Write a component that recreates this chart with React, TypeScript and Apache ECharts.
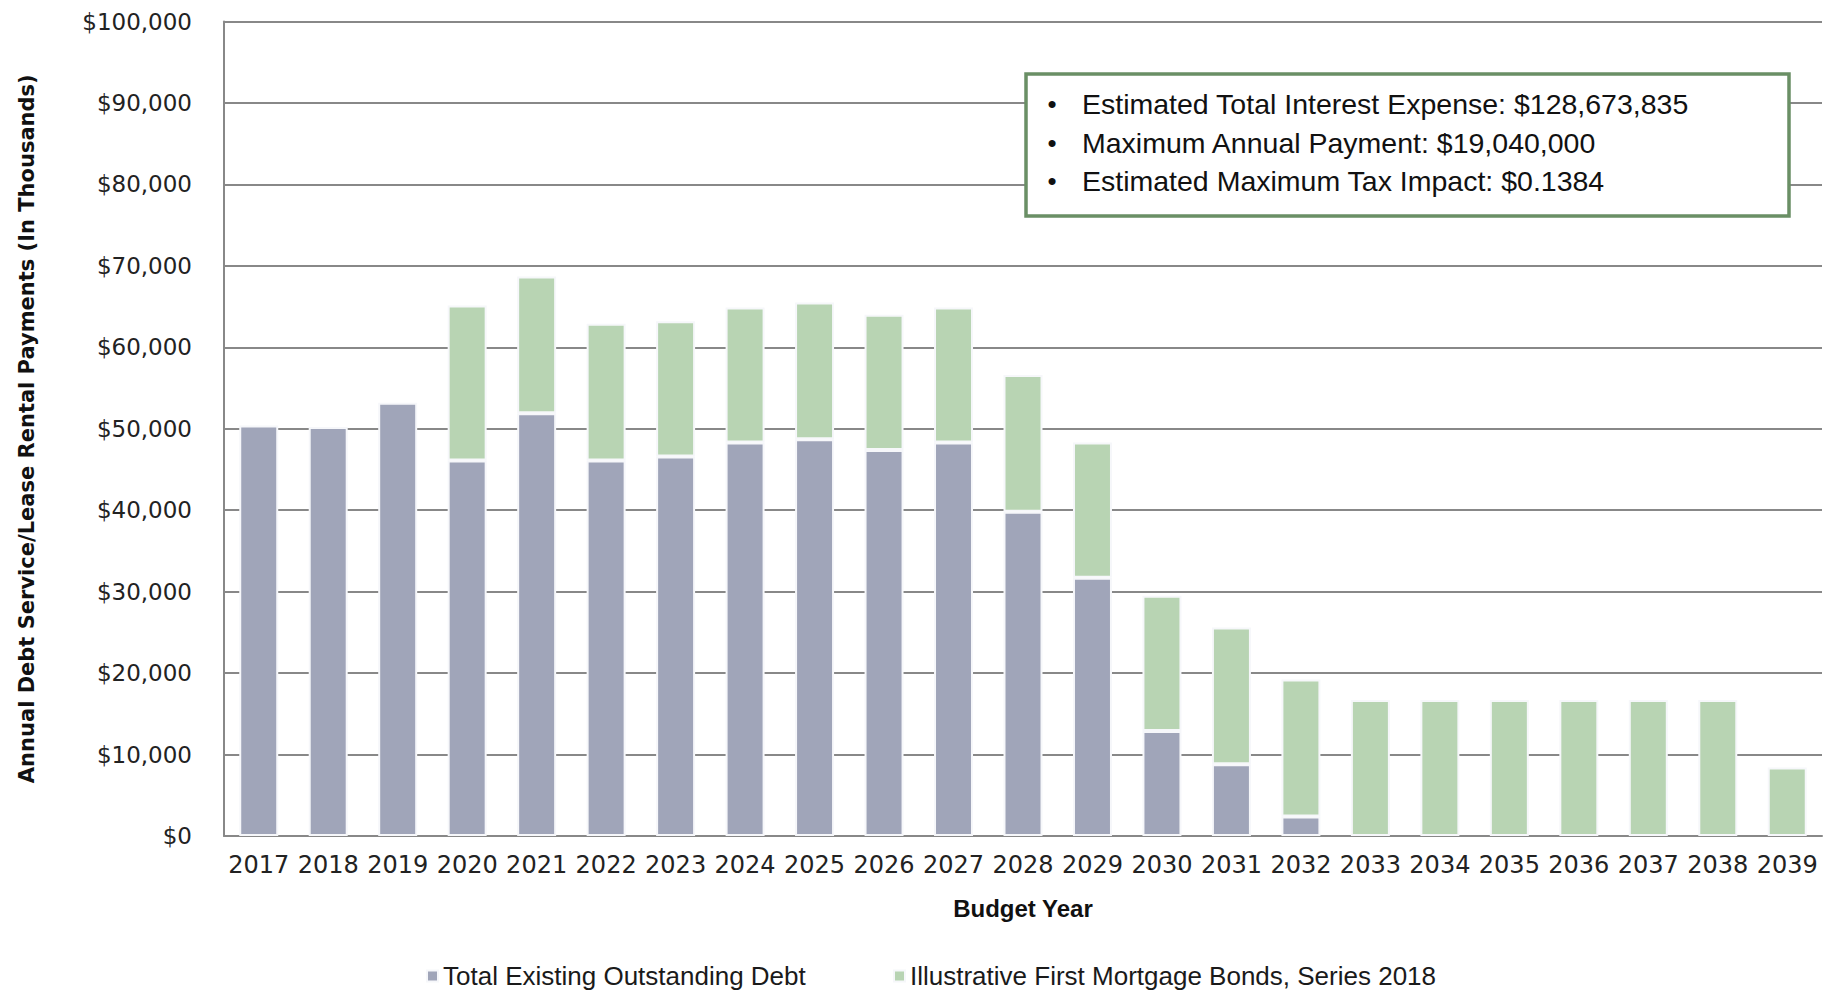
import React, { useEffect, useRef } from "react";
import * as echarts from "echarts";

const years = ["2017","2018","2019","2020","2021","2022","2023","2024","2025","2026","2027","2028","2029","2030","2031","2032","2033","2034","2035","2036","2037","2038","2039"];
const existingDebt = [50400,50200,53200,46100,51900,46100,46600,48300,48700,47400,48300,39800,31700,12900,8800,2400,0,0,0,0,0,0,0];
const firstMortgageBonds = [0,0,0,19040,16800,16800,16600,16600,16800,16600,16600,16800,16600,16600,16800,16800,16700,16700,16700,16700,16700,16700,8400];
const seriesNames = ["Total Existing Outstanding Debt", "Illustrative First Mortgage Bonds, Series 2018"];
const boxLines = [
  "Estimated Total Interest Expense: $128,673,835",
  "Maximum Annual Payment: $19,040,000",
  "Estimated Maximum Tax Impact: $0.1384",
];
const yAxisTitle = "Annual Debt Service/Lease Rental Payments (In Thousands)";
const xAxisTitle = "Budget Year";

const BLUE = "#A0A5B9";
const GREEN = "#B8D4B3";
const GRID = "#888888";

export default function App() {
  const ref = useRef<HTMLDivElement>(null);
  useEffect(() => {
    if (!ref.current) return;
    const chart = echarts.init(ref.current, null, { renderer: "svg" });
    const toData = (arr: number[]) => arr.map((v) => (v === 0 ? "-" : v));
    const barCommon = {
      type: "bar",
      stack: "total",
      barWidth: 39,
      itemStyle: { borderColor: "#f6f7fa", borderWidth: 2 },
      emphasis: { disabled: true },
    };
    const legendText = { fontFamily: "Liberation Sans", fontSize: 26, color: "#1a1a1a" };
    chart.setOption({
      animation: false,
      backgroundColor: "#ffffff",
      grid: { left: 224, right: 11, top: 21.5, bottom: 157, containLabel: false },
      legend: [
        {
          data: [seriesNames[0]],
          left: 421,
          top: 958,
          itemWidth: 11,
          itemHeight: 11,
          icon: "rect",
          textStyle: legendText,
        },
        {
          data: [seriesNames[1]],
          left: 888,
          top: 958,
          itemWidth: 11,
          itemHeight: 11,
          icon: "rect",
          textStyle: legendText,
        },
      ],
      xAxis: {
        type: "category",
        data: years,
        axisTick: { show: false },
        axisLine: { lineStyle: { color: GRID, width: 2 } },
        axisLabel: { interval: 0, fontFamily: "DejaVu Sans", fontSize: 24, color: "#222", margin: 17 },
        name: xAxisTitle,
        nameLocation: "middle",
        nameGap: 60,
        nameTextStyle: { fontFamily: "Liberation Sans", fontWeight: "bold", fontSize: 24, color: "#111" },
      },
      yAxis: {
        type: "value",
        min: 0,
        max: 100000,
        interval: 10000,
        axisLine: { show: true, lineStyle: { color: GRID, width: 2 } },
        axisTick: { show: false },
        splitLine: { lineStyle: { color: GRID, width: 2 } },
        axisLabel: {
          fontFamily: "DejaVu Sans",
          fontSize: 23,
          color: "#222",
          margin: 32,
          formatter: (v: number) => "$" + v.toLocaleString("en-US"),
        },
        name: yAxisTitle,
        nameLocation: "middle",
        nameGap: 187,
        nameRotate: 90,
        nameTextStyle: { fontFamily: "DejaVu Sans", fontWeight: "bold", fontSize: 21, color: "#111" },
      },
      series: [
        { ...barCommon, name: seriesNames[0], data: toData(existingDebt), itemStyle: { ...barCommon.itemStyle, color: BLUE } },
        { ...barCommon, name: seriesNames[1], data: toData(firstMortgageBonds), itemStyle: { ...barCommon.itemStyle, color: GREEN } },
      ],
      graphic: [
        {
          type: "rect",
          shape: { x: 1026, y: 74, width: 763, height: 142 },
          style: { fill: "#ffffff", stroke: "#6A8F65", lineWidth: 3.5 },
          z: 100,
        },
        ...boxLines.flatMap((t, i) => [
          {
            type: "text",
            x: 1052,
            y: 104 + i * 38.5,
            style: { text: "•", fontFamily: "Liberation Sans", fontSize: 26, fill: "#111", verticalAlign: "middle", align: "center" },
            z: 101,
          },
          {
            type: "text",
            x: 1082,
            y: 104 + i * 38.5,
            style: { text: t, fontFamily: "Liberation Sans", fontSize: 28.5, fill: "#111", verticalAlign: "middle" },
            z: 101,
          },
        ]),
      ],
    });
    return () => chart.dispose();
  }, []);
  return (
    <div
      ref={ref}
      style={{ position: "fixed", left: 0, top: 0, width: 1833, height: 993, background: "#fff" }}
    />
  );
}
